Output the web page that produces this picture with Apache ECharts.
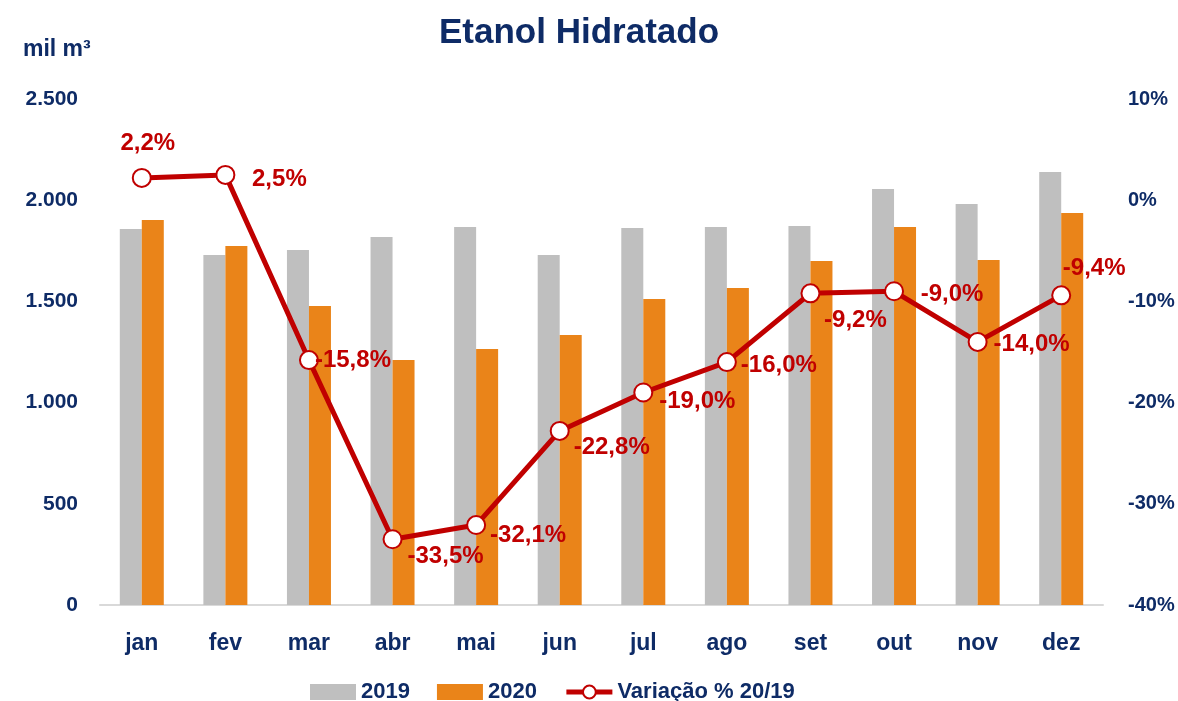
<!DOCTYPE html>
<html>
<head>
<meta charset="utf-8">
<script src="https://cdn.jsdelivr.net/npm/echarts@6/dist/echarts.min.js"></script>
<style>
  html, body { margin: 0; padding: 0; background: #fff; }
  #chart { width: 1178px; height: 701px; }
</style>
</head>
<body>
<div id="chart"></div>
<script>
// Etanol Hidratado - vendas 2019 x 2020
const months = ['jan', 'fev', 'mar', 'abr', 'mai', 'jun', 'jul', 'ago', 'set', 'out', 'nov', 'dez'];
const vendas2019 = [1858, 1729, 1754, 1818, 1868, 1729, 1863, 1868, 1873, 2055, 1981, 2139];
const vendas2020 = [1902, 1774, 1477, 1210, 1265, 1334, 1512, 1566, 1700, 1868, 1705, 1937];
const variacao = [2.2, 2.5, -15.8, -33.5, -32.1, -22.8, -19.0, -16.0, -9.2, -9.0, -14.0, -9.4];

// label offsets (from marker centre to label centre)
const labelOffsets = [
    [6, -35], [54, 4], [44, 0], [53, 17], [52, 10], [52, 16],
    [54, 9], [52, 3], [45, 27], [58, 3], [54, 2], [33, -27]
];

const navy = '#0e2b66';
const red = '#c00000';
const font = 'Liberation Sans';

const chart = echarts.init(document.getElementById('chart'));

const fmtPct = v => v.toFixed(1).replace('.', ',') + '%';

let option = {
    backgroundColor: '#fff',
    animation: false,
    textStyle: { fontFamily: font },
    title: [{
        text: 'Etanol Hidratado',
        left: 434,
        top: 11,
        textStyle: { color: navy, fontSize: 35, fontWeight: 'bold', fontFamily: font }
    }, {
        text: 'mil m³',
        left: 18,
        top: 33,
        textStyle: { color: navy, fontSize: 23, fontWeight: 'bold', fontFamily: font }
    }],
    legend: {
        top: 676,
        left: 305,
        itemWidth: 46,
        itemHeight: 16,
        itemGap: 27,
        textStyle: { color: navy, fontSize: 22, fontWeight: 'bold', fontFamily: font },
        data: [
            { name: '2019', icon: 'rect' },
            { name: '2020', icon: 'rect' },
            {
                name: 'Variação % 20/19',
                lineStyle: { color: red, width: 5 },
                itemStyle: { color: '#fff', borderColor: red, borderWidth: 2 }
            }
        ]
    },
    grid: { left: 100, right: 75, top: 99, bottom: 96 },
    xAxis: {
        type: 'category',
        data: months,
        axisLine: { lineStyle: { color: '#d9d9d9', width: 2 } },
        axisTick: { show: false },
        axisLabel: { color: navy, fontSize: 23, fontWeight: 'bold', margin: 27 }
    },
    yAxis: [{
        type: 'value',
        min: 0,
        max: 2500,
        interval: 500,
        splitLine: { show: false },
        axisLabel: {
            color: navy, fontSize: 21, fontWeight: 'bold', margin: 22,
            formatter: v => v.toLocaleString('pt-BR')
        }
    }, {
        type: 'value',
        min: -40,
        max: 10,
        interval: 10,
        splitLine: { show: false },
        axisLabel: {
            color: navy, fontSize: 20, fontWeight: 'bold', margin: 25,
            formatter: v => v + '%'
        }
    }],
    series: [{
        name: '2019',
        type: 'bar',
        data: vendas2019,
        barWidth: 22,
        barGap: '0%',
        itemStyle: { color: '#bfbfbf' }
    }, {
        name: '2020',
        type: 'bar',
        data: vendas2020,
        barWidth: 22,
        itemStyle: { color: '#ea8419' }
    }, {
        name: 'Variação % 20/19',
        type: 'line',
        yAxisIndex: 1,
        data: variacao.map((v, i) => ({
            value: v,
            label: { offset: labelOffsets[i] }
        })),
        symbol: 'circle',
        symbolSize: 18,
        lineStyle: { color: red, width: 5 },
        itemStyle: { color: '#fff', borderColor: red, borderWidth: 2 },
        label: {
            show: true,
            position: 'inside',
            color: red,
            fontSize: 24,
            fontWeight: 'bold',
            formatter: p => fmtPct(p.value)
        },
        z: 5
    }]
};

chart.setOption(option);
</script>
</body>
</html>
